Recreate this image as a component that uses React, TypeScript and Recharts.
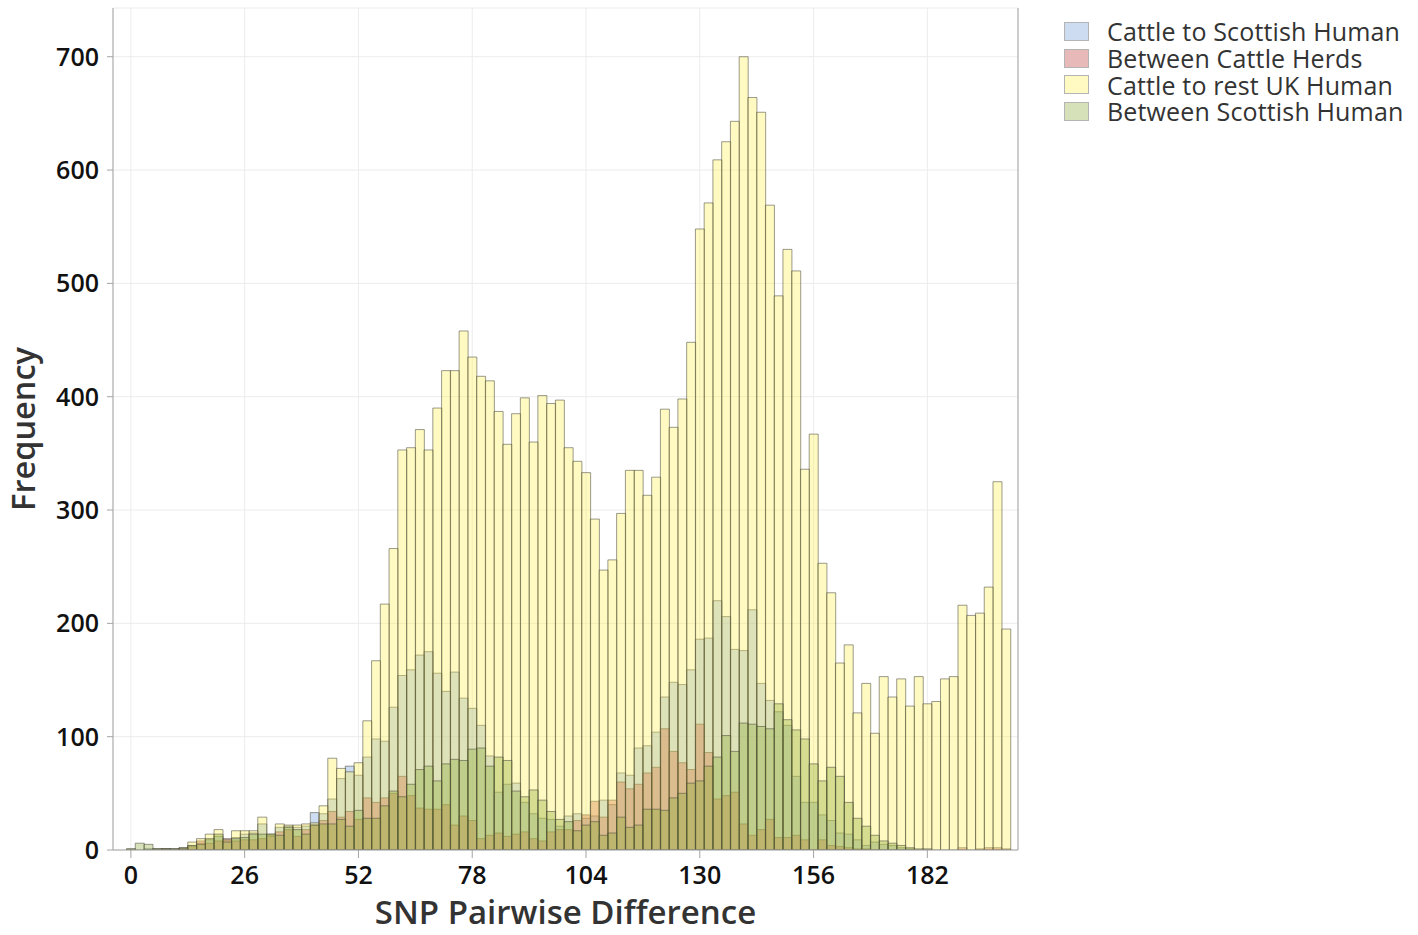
import React from "react";
import { BarChart, Bar, XAxis, YAxis, CartesianGrid, Legend } from "recharts";

// SNP distance bins (width 2)
const bins = [
  0, 2, 4, 6, 8, 10, 12, 14, 16, 18, 20, 22, 24, 26, 28, 30, 32, 34, 36, 38,
  40, 42, 44, 46, 48, 50, 52, 54, 56, 58, 60, 62, 64, 66, 68, 70, 72, 74, 76, 78,
  80, 82, 84, 86, 88, 90, 92, 94, 96, 98, 100, 102, 104, 106, 108, 110, 112, 114, 116, 118,
  120, 122, 124, 126, 128, 130, 132, 134, 136, 138, 140, 142, 144, 146, 148, 150, 152, 154, 156, 158,
  160, 162, 164, 166, 168, 170, 172, 174, 176, 178, 180, 182, 184, 186, 188, 190, 192, 194, 196, 198,
  200,
];

const cattleToScottishHuman = [
  0, 0, 1, 1, 1, 1, 2, 4, 6, 9, 12, 8, 11, 14, 15, 23, 13, 20, 21, 20,
  21, 33, 32, 45, 63, 74, 66, 82, 98, 96, 126, 154, 159, 172, 175, 156, 140, 157, 134, 125,
  110, 83, 51, 58, 59, 42, 32, 28, 27, 21, 30, 32, 28, 30, 44, 40, 68, 66, 90, 92,
  104, 135, 148, 146, 159, 186, 187, 220, 206, 177, 176, 212, 147, 132, 122, 110, 65, 42, 42, 31,
  26, 15, 14, 9, 4, 7, 5, 4, 2, 1, 0, 0, 0, 0, 0, 0, 0, 0, 0, 0,
  0,
];

const betweenCattleHerds = [
  0, 0, 0, 0, 1, 0, 1, 3, 8, 6, 8, 10, 8, 9, 9, 10, 12, 16, 18, 12,
  18, 22, 26, 34, 29, 34, 27, 46, 42, 46, 50, 65, 48, 37, 36, 36, 40, 22, 30, 26,
  10, 13, 15, 12, 14, 16, 10, 8, 16, 18, 18, 26, 31, 43, 29, 44, 60, 54, 58, 68,
  73, 107, 87, 77, 71, 111, 86, 45, 48, 51, 23, 13, 18, 27, 11, 11, 13, 9, 0, 9,
  4, 3, 2, 1, 1, 0, 0, 0, 0, 0, 0, 0, 0, 0, 0, 2, 0, 1, 2, 2,
  1,
];

const cattleToRestUkHuman = [
  1, 0, 0, 1, 1, 1, 2, 7, 10, 14, 18, 9, 17, 17, 17, 29, 14, 23, 22, 22,
  23, 24, 39, 81, 72, 69, 77, 114, 167, 217, 266, 353, 355, 371, 353, 390, 423, 423, 458, 435,
  418, 414, 387, 358, 385, 399, 360, 401, 394, 397, 355, 343, 333, 292, 247, 256, 297, 335, 335, 313,
  329, 389, 373, 398, 448, 548, 571, 609, 625, 643, 700, 664, 651, 569, 489, 530, 511, 336, 367, 253,
  227, 165, 181, 121, 147, 103, 153, 135, 151, 127, 153, 129, 131, 151, 153, 216, 207, 209, 232, 325,
  195,
];

const betweenScottishHuman = [
  1, 6, 5, 1, 1, 1, 1, 4, 5, 10, 14, 7, 10, 11, 14, 14, 14, 13, 20, 18,
  14, 22, 23, 23, 27, 21, 35, 28, 28, 39, 52, 47, 58, 71, 74, 61, 76, 80, 79, 89,
  90, 74, 82, 79, 52, 47, 53, 44, 34, 27, 25, 17, 22, 25, 13, 15, 29, 20, 22, 36,
  36, 35, 46, 50, 59, 61, 74, 82, 101, 87, 112, 111, 109, 107, 129, 115, 106, 98, 76, 61,
  73, 65, 42, 28, 21, 13, 8, 6, 4, 2, 1, 1, 0, 0, 0, 0, 0, 0, 0, 0,
  0,
];

const yTicks = [0, 100, 200, 300, 400, 500, 600, 700];
const yDomain = [0, 743];

const series = [
  { key: "cattleScot", name: "Cattle to Scottish Human", color: "#709bd4", values: cattleToScottishHuman, axis: "a", yAxis: "r" },
  { key: "herds", name: "Between Cattle Herds", color: "#bd3737", values: betweenCattleHerds, axis: "b", yAxis: "l" },
  { key: "restUk", name: "Cattle to rest UK Human", color: "#ffed51", values: cattleToRestUkHuman, axis: "c", yAxis: "l" },
  { key: "scotHuman", name: "Between Scottish Human", color: "#8aa937", values: betweenScottishHuman, axis: "d", yAxis: "l" },
];

const data = bins.map((snp, i) => {
  const row: Record<string, number> = { snp };
  series.forEach((s) => (row[s.key] = s.values[i]));
  return row;
});

const FONT = "'Open Sans', 'Noto Sans', sans-serif";
const FRAME = "#a4a4a4";
const ALPHA = 0.35;
const PAD = { left: 13.5, right: 7.5 };

function LegendBox() {
  return (
    <div style={{ fontFamily: FONT, fontSize: 25, lineHeight: "26.8px", color: "#333" }}>
      {series.map((s) => (
        <div key={s.key} style={{ display: "flex", alignItems: "center", height: 26.8, whiteSpace: "nowrap" }}>
          <span style={{ position: "relative", flex: "none", width: 25, height: 19, marginRight: 18, boxSizing: "border-box", border: "1px solid #b4b4b4", background: "#fff" }}>
            <span style={{ position: "absolute", inset: 0, background: s.color, opacity: ALPHA }} />
          </span>
          <span style={{ letterSpacing: 0.15 }}>{s.name}</span>
        </div>
      ))}
    </div>
  );
}

export default function App() {
  const tickStyle = { fontSize: 25, fill: "#111", fontWeight: 600, fontFamily: FONT };
  return (
    <div style={{ position: "absolute", left: 0, top: 0, width: 1418, height: 935, background: "#fff" }}>
      <BarChart
        width={1418}
        height={935}
        data={data}
        margin={{ top: 8, right: 399, bottom: 0, left: 0 }}
        barCategoryGap={0}
        barGap={0}
      >
        <CartesianGrid xAxisId="a" yAxisId="l" stroke="#ececec" />
        <XAxis
          xAxisId="a"
          dataKey="snp"
          interval={12}
          padding={PAD}
          height={85}
          tickSize={8}
          tickMargin={8}
          axisLine={{ stroke: FRAME }}
          tickLine={{ stroke: FRAME }}
          tick={tickStyle}
          label={{
            value: "SNP Pairwise Difference",
            position: "insideBottom",
            offset: 11,
            style: { fontSize: 33, fontWeight: 600, fill: "#333", fontFamily: FONT },
          }}
        />
        <XAxis
          xAxisId="b"
          dataKey="snp"
          orientation="top"
          padding={PAD}
          height={0}
          tick={false}
          tickLine={false}
          axisLine={{ stroke: FRAME }}
        />
        <XAxis xAxisId="c" dataKey="snp" padding={PAD} hide />
        <XAxis xAxisId="d" dataKey="snp" padding={PAD} hide />
        <YAxis
          yAxisId="l"
          domain={yDomain}
          ticks={yTicks}
          interval={0}
          allowDataOverflow
          width={113}
          tickSize={6}
          tickMargin={8}
          axisLine={{ stroke: FRAME }}
          tickLine={{ stroke: FRAME }}
          tick={tickStyle}
          label={{
            value: "Frequency",
            angle: -90,
            position: "insideLeft",
            offset: 23,
            style: { textAnchor: "middle", fontSize: 32.5, fontWeight: 600, fill: "#333", fontFamily: FONT },
          }}
        />
        <YAxis
          yAxisId="r"
          orientation="right"
          domain={yDomain}
          allowDataOverflow
          width={1}
          tick={false}
          tickLine={false}
          axisLine={{ stroke: FRAME }}
        />
        <Legend
          layout="horizontal"
          align="center"
          verticalAlign="middle"
          wrapperStyle={{ left: 1064, top: 18, width: 354 }}
          content={() => <LegendBox />}
        />
        {series.map((s) => (
          <Bar
            key={s.key}
            dataKey={s.key}
            name={s.name}
            xAxisId={s.axis}
            yAxisId={s.yAxis}
            fill={s.color}
            fillOpacity={ALPHA}
            stroke="#4a4a3c"
            strokeOpacity={0.55}
            strokeWidth={1}
            isAnimationActive={false}
          />
        ))}
      </BarChart>
    </div>
  );
}
